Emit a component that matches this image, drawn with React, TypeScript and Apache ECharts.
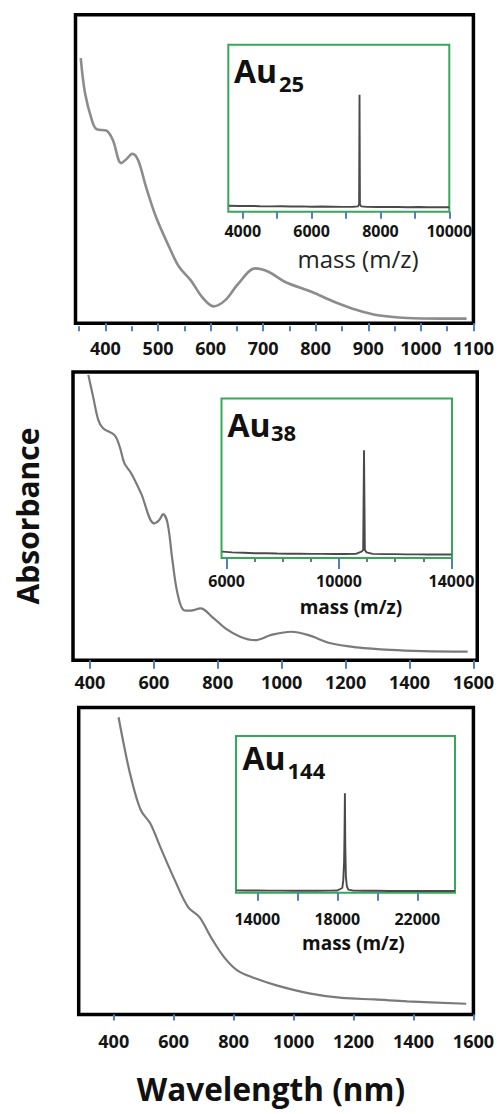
import React, { useEffect, useRef } from "react";
import * as echarts from "echarts";

// ---- UV-vis absorbance spectra (normalised absorbance) ----
const au25Wavelength = [353, 361, 374, 383, 402, 414, 430, 440, 451, 462, 477, 496, 521, 540, 562, 584, 606, 628, 653, 685, 710, 742, 792, 836, 880, 918, 974, 1037, 1087];
const au25Absorbance = [0.859, 0.747, 0.659, 0.629, 0.624, 0.594, 0.519, 0.532, 0.549, 0.529, 0.443, 0.345, 0.248, 0.183, 0.14, 0.085, 0.055, 0.075, 0.129, 0.178, 0.167, 0.134, 0.102, 0.069, 0.042, 0.026, 0.017, 0.015, 0.015];

const au38Wavelength = [395, 410, 426, 441, 477, 493, 508, 529, 560, 601, 617, 629, 643, 658, 674, 694, 715, 746, 782, 824, 870, 916, 968, 1030, 1082, 1154, 1236, 1340, 1443, 1582];
const au38Absorbance = [0.99, 0.914, 0.834, 0.805, 0.781, 0.741, 0.683, 0.649, 0.579, 0.475, 0.487, 0.507, 0.475, 0.348, 0.232, 0.174, 0.172, 0.18, 0.151, 0.111, 0.082, 0.07, 0.088, 0.099, 0.088, 0.059, 0.045, 0.036, 0.032, 0.03];

const au144Wavelength = [416, 435, 457, 490, 522, 555, 604, 648, 686, 724, 768, 812, 866, 943, 1052, 1161, 1270, 1379, 1576];
const au144Absorbance = [0.968, 0.872, 0.774, 0.666, 0.622, 0.546, 0.437, 0.35, 0.317, 0.252, 0.187, 0.144, 0.12, 0.095, 0.069, 0.054, 0.049, 0.043, 0.035];

// ---- mass spectra (normalised intensity) ----
const au25Mass = [3600, 3900, 4200, 4500, 4800, 5100, 5400, 5700, 6000, 6300, 6600, 6900, 7200, 7350, 7380, 7392, 7404, 7440, 7600, 7900, 8200, 8500, 8800, 9100, 9400, 9700, 10000];
const au25Intensity = [0.036, 0.034, 0.035, 0.033, 0.032, 0.033, 0.031, 0.032, 0.03, 0.031, 0.03, 0.029, 0.03, 0.032, 0.045, 0.7, 0.045, 0.032, 0.029, 0.028, 0.029, 0.028, 0.027, 0.028, 0.027, 0.027, 0.027];

const au38Mass = [5840, 6200, 6600, 7000, 7400, 7800, 8200, 8600, 9000, 9400, 9800, 10200, 10600, 10800, 10860, 10890, 10920, 10980, 11200, 11600, 12000, 12400, 12800, 13200, 13600, 14000];
const au38Intensity = [0.04, 0.035, 0.033, 0.03, 0.03, 0.028, 0.027, 0.027, 0.026, 0.026, 0.025, 0.025, 0.026, 0.04, 0.05, 0.676, 0.05, 0.035, 0.026, 0.024, 0.024, 0.023, 0.023, 0.022, 0.022, 0.022];

const au144Mass = [12950, 13400, 14000, 14600, 15200, 15800, 16400, 17000, 17600, 18000, 18250, 18300, 18340, 18360, 18380, 18400, 18430, 18480, 18550, 18800, 19400, 20000, 20600, 21200, 21800, 22400, 23000, 23600, 23880];
const au144Intensity = [0.015, 0.014, 0.014, 0.013, 0.013, 0.012, 0.012, 0.012, 0.013, 0.014, 0.03, 0.08, 0.2, 0.37, 0.634, 0.3, 0.1, 0.04, 0.02, 0.013, 0.012, 0.012, 0.011, 0.011, 0.011, 0.011, 0.011, 0.011, 0.011];

// ---- axis ticks and labels ----
const au25WlTicks = [400, 500, 600, 700, 800, 900, 1000, 1100];
const au25WlMinorTicks = [350, 450, 550, 650, 750, 850, 950, 1050];
const au38WlTicks = [400, 600, 800, 1000, 1200, 1400, 1600];
const au144WlTicks = [400, 600, 800, 1000, 1200, 1400, 1600];

const au25MassTicks = [4000, 5000, 6000, 7000, 8000, 9000, 10000];
const au25MassLabels = [4000, 6000, 8000, 10000];
const au38MassTicks = [6000, 10000, 14000];
const au38MassMinorTicks = [7000, 8000, 9000, 11000, 12000, 13000];
const au144MassTicks = [14000, 16000, 18000, 20000, 22000];
const au144MassLabels = [14000, 18000, 22000];

const FONT = "'Open Sans', Lato, sans-serif";
const TICK_BLUE = "#4f80c4";
const FRAME_GREEN = "#35a957";
const LABEL_COLOR = "#141414";

const zip = (xs: number[], ys: number[]) => xs.map((x, i) => [x, ys[i]]);

function tickAxis(opts: {
  grid: number;
  min: number;
  max: number;
  ticks: number[];
  labels?: number[];
  offset: number;
  tickLen: number;
  tickColor?: string;
  tickWidth?: number;
  margin?: number;
  fontSize?: number;
}) {
  return {
    type: "value",
    gridIndex: opts.grid,
    position: "bottom",
    min: opts.min,
    max: opts.max,
    offset: opts.offset,
    splitLine: { show: false },
    axisLine: { show: false },
    axisTick: {
      show: true,
      customValues: opts.ticks,
      length: opts.tickLen,
      lineStyle: { color: opts.tickColor || TICK_BLUE, width: opts.tickWidth || 2 },
    },
    axisLabel: opts.labels
      ? {
          show: true,
          customValues: opts.labels,
          margin: opts.margin,
          fontSize: opts.fontSize,
          lineHeight: opts.fontSize,
          fontWeight: "bold",
          fontFamily: FONT,
          color: LABEL_COLOR,
          formatter: (v: number) => String(v),
        }
      : { show: false },
  };
}

const grids = [
  { left: 75.5, top: 14.7, width: 400.8, height: 308.6 },
  { left: 73, top: 372, width: 408.3, height: 288.3 },
  { left: 78.7, top: 707.5, width: 401.6, height: 307 },
  { left: 228.3, top: 44.7, width: 221, height: 167 },
  { left: 221.5, top: 398.5, width: 230.5, height: 159.5 },
  { left: 236, top: 736, width: 219, height: 156.7 },
];

function buildOption() {
  const mainGrid = (g: any) => ({
    ...g,
    show: true,
    borderColor: "#000",
    borderWidth: 3.5,
    backgroundColor: "#fff",
    containLabel: false,
  });
  const insetGrid = (g: any) => ({
    ...g,
    show: true,
    borderColor: FRAME_GREEN,
    borderWidth: 2,
    backgroundColor: "#fff",
    containLabel: false,
  });

  const xAxis = [
    tickAxis({ grid: 0, min: 343, max: 1100, ticks: au25WlTicks, labels: au25WlTicks, offset: 2, tickLen: 8, margin: 14, fontSize: 18 }),
    tickAxis({ grid: 0, min: 343, max: 1100, ticks: au25WlMinorTicks, offset: 3, tickLen: 5 }),
    tickAxis({ grid: 1, min: 347, max: 1612, ticks: au38WlTicks, labels: au38WlTicks, offset: 1.5, tickLen: 8.5, margin: 11, fontSize: 18 }),
    tickAxis({ grid: 2, min: 283, max: 1600, ticks: au144WlTicks, labels: au144WlTicks, offset: 4, tickLen: 6, margin: 13.5, fontSize: 18 }),
    tickAxis({ grid: 3, min: 3580, max: 10000, ticks: au25MassTicks, labels: au25MassLabels, offset: 0, tickLen: 7, margin: 11, fontSize: 16 }),
    tickAxis({ grid: 4, min: 5820, max: 14020, ticks: au38MassTicks, labels: au38MassTicks, offset: 0, tickLen: 11, margin: 15, fontSize: 16 }),
    tickAxis({ grid: 4, min: 5820, max: 14020, ticks: au38MassMinorTicks, offset: 1, tickLen: 3, tickColor: "#444", tickWidth: 1.5 }),
    tickAxis({ grid: 5, min: 12935, max: 23885, ticks: au144MassTicks, labels: au144MassLabels, offset: 1, tickLen: 8, margin: 17, fontSize: 16 }),
  ];

  const yAxis = grids.map((_, i) => ({
    type: "value",
    gridIndex: i,
    min: 0,
    max: 1,
    show: false,
  }));

  const uvLine = (xi: number, yi: number, xs: number[], ys: number[], color: string, width: number) => ({
    type: "line",
    xAxisIndex: xi,
    yAxisIndex: yi,
    data: zip(xs, ys),
    showSymbol: false,
    smooth: 0.35,
    lineStyle: { color, width },
    silent: true,
  });
  const msLine = (xi: number, yi: number, xs: number[], ys: number[]) => ({
    type: "line",
    xAxisIndex: xi,
    yAxisIndex: yi,
    data: zip(xs, ys),
    showSymbol: false,
    lineStyle: { color: "#4a4a4a", width: 1.9 },
    silent: true,
  });

  const series = [
    uvLine(0, 0, au25Wavelength, au25Absorbance, "#8c8c8c", 2.6),
    uvLine(2, 1, au38Wavelength, au38Absorbance, "#7a7a7a", 2.2),
    uvLine(3, 2, au144Wavelength, au144Absorbance, "#7a7a7a", 2.2),
    msLine(4, 3, au25Mass, au25Intensity),
    msLine(5, 4, au38Mass, au38Intensity),
    msLine(7, 5, au144Mass, au144Intensity),
  ];

  const txt = (text: string, x: number, y: number, fontSize: number, extra: any = {}) => ({
    type: "text",
    x,
    y,
    z: 100,
    silent: true,
    ...extra,
    style: {
      text,
      fontSize,
      lineHeight: fontSize,
      fontWeight: "bold",
      fontFamily: FONT,
      fill: "#111",
      align: "left",
      verticalAlign: "middle",
      ...(extra.style || {}),
    },
  });

  const graphic = [
    // cluster labels with subscripts
    txt("Au", 234, 70, 32),
    txt("25", 279, 83.3, 22),
    txt("Au", 227.5, 424, 32),
    txt("38", 271, 432.3, 22),
    txt("Au", 242.5, 757, 32),
    txt("144", 287.5, 770, 22),
    // inset axis titles
    txt("mass (m/z)", 358, 258, 24, { style: { align: "center", fontWeight: "normal", fill: "#222" } }),
    txt("mass (m/z)", 351, 606.7, 19, { style: { align: "center" } }),
    txt("mass (m/z)", 353.3, 943.3, 19, { style: { align: "center" } }),
    // shared axis titles
    txt("Absorbance", 27, 516, 30, { rotation: Math.PI / 2, style: { align: "center" } }),
    txt("Wavelength (nm)", 271, 1088, 31.5, { style: { align: "center" } }),
  ];

  return {
    animation: false,
    backgroundColor: "#fff",
    grid: [
      mainGrid(grids[0]),
      mainGrid(grids[1]),
      mainGrid(grids[2]),
      insetGrid(grids[3]),
      insetGrid(grids[4]),
      insetGrid(grids[5]),
    ],
    xAxis,
    yAxis,
    series,
    graphic,
  };
}

export default function App() {
  const ref = useRef<HTMLDivElement | null>(null);
  useEffect(() => {
    if (!ref.current) return;
    const chart = echarts.init(ref.current, undefined, { renderer: "svg" });
    chart.setOption(buildOption() as any);
    return () => chart.dispose();
  }, []);
  return (
    <div
      ref={ref}
      style={{ position: "absolute", left: 0, top: 0, width: 497, height: 1114, background: "#fff" }}
    />
  );
}
